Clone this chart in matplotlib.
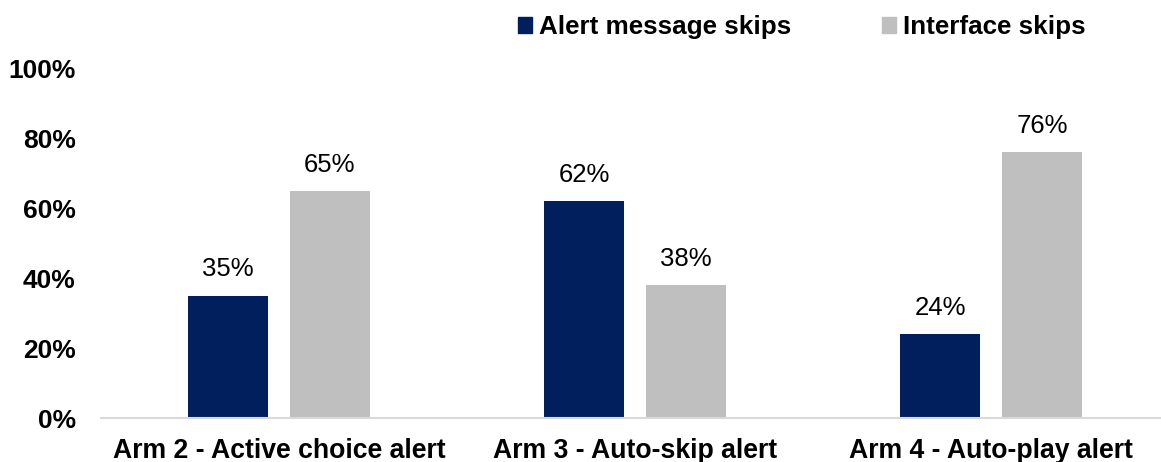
import matplotlib
matplotlib.use("Agg")
import matplotlib.pyplot as plt
import numpy as np
from matplotlib.patches import Patch

categories = ["Arm 2 - Active choice alert", "Arm 3 - Auto-skip alert", "Arm 4 - Auto-play alert"]
alert_skips = [35, 62, 24]
interface_skips = [65, 38, 76]
series_names = ["Alert message skips", "Interface skips"]
yticks = [0, 20, 40, 60, 80, 100]

navy = "#001f5c"
gray = "#bfbfbf"

plt.rcParams["font.family"] = ["Liberation Sans", "DejaVu Sans"]

W, H = 1161, 462
fig = plt.figure(figsize=(W / 100, H / 100), dpi=100)
ax = fig.add_axes([101 / W, (H - 418) / H, (1169 - 101) / W, 350 / H])

x = np.arange(len(categories))
bw = 0.225
off = 0.143
b1 = ax.bar(x - off, alert_skips, bw, color=navy, label=series_names[0])
b2 = ax.bar(x + off, interface_skips, bw, color=gray, label=series_names[1])

for bars, vals in ((b1, alert_skips), (b2, interface_skips)):
    for rect, v in zip(bars, vals):
        ax.text(rect.get_x() + rect.get_width() / 2, v + 4, f"{v}%",
                ha="center", va="bottom", fontsize=18.5)

ax.set_xlim(-0.5, 2.5)
ax.set_ylim(0, 100)
ax.set_yticks(yticks)
ax.set_yticklabels([f"{t}%" for t in yticks], fontsize=19, fontweight="bold")
ax.set_xticks(x)
ax.set_xticklabels(categories, fontsize=19.2, fontweight="bold")
ax.tick_params(axis="both", length=0)
ax.tick_params(axis="y", pad=18.2)
ax.tick_params(axis="x", pad=14.5)
for s in ("top", "right", "left"):
    ax.spines[s].set_visible(False)
ax.spines["bottom"].set_color("#d9d9d9")
ax.spines["bottom"].set_linewidth(1.5)

handles = [Patch(color=navy), Patch(color=gray)]
fig.legend(handles, series_names, loc="center left",
           bbox_to_anchor=(518 / W, 1 - 27 / H), ncol=2, frameon=False,
           prop={"size": 18.7, "weight": "bold"}, handlelength=0.55, handleheight=0.55,
           handletextpad=0.25, columnspacing=3.5, borderpad=0, borderaxespad=0)

fig.savefig("out.png", dpi=100)
